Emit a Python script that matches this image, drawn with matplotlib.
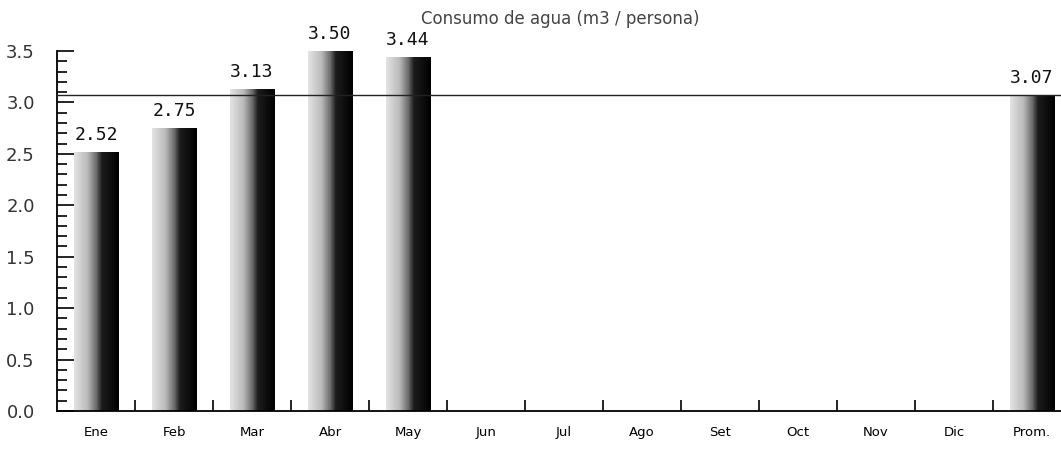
import matplotlib
matplotlib.use("Agg")
import matplotlib.pyplot as plt
import numpy as np
from matplotlib.colors import LinearSegmentedColormap
from matplotlib.ticker import MultipleLocator

months = ['Ene', 'Feb', 'Mar', 'Abr', 'May', 'Jun', 'Jul', 'Ago',
          'Set', 'Oct', 'Nov', 'Dic', 'Prom.']
consumo = [2.52, 2.75, 3.13, 3.50, 3.44, np.nan, np.nan, np.nan,
           np.nan, np.nan, np.nan, np.nan, 3.07]
promedio = 3.07

fig = plt.figure(figsize=(10.61, 4.5), dpi=100)
# the plot area runs past the right edge of the picture, as in the original
ax = fig.add_axes([57 / 1061, 39 / 450, 1004 / 1061, 360 / 450])

x = np.arange(len(months))
bars = ax.bar(x, np.nan_to_num(consumo), width=0.565, color='none',
              edgecolor='none', zorder=2)

# gray-to-black horizontal gradient clipped to each bar
cmap = LinearSegmentedColormap.from_list(
    'grad', [(0.0, '#e4e4e4'), (0.3, '#bababa'), (0.5, '#6a6a6a'),
             (0.62, '#1c1c1c'), (1.0, '#000000')])
grad = np.linspace(0, 1, 256).reshape(1, -1)
for b, v in zip(bars, consumo):
    if np.isnan(v):
        continue
    x0, w, h = b.get_x(), b.get_width(), b.get_height()
    im = ax.imshow(grad, cmap=cmap, aspect='auto', extent=[x0, x0 + w, 0, h],
                   zorder=2, interpolation='bilinear')
    im.set_clip_path(b)
    ax.text(x0 + w / 2, h + 0.08, f'{v:.2f}', ha='center', va='bottom',
            family='DejaVu Sans Mono', fontsize=13, color='#111111', zorder=4)

ax.axhline(promedio, color='#222222', lw=1.0, zorder=3)

ax.set_xlim(-0.5, -0.5 + 1004 / 78)
ax.set_ylim(0, 3.5)
ax.set_xticks(x)
ax.set_xticklabels(months, fontsize=9.5)
ax.set_xticks(x[:-1] + 0.5, minor=True)
ax.tick_params(axis='x', which='major', length=0, pad=11)
ax.tick_params(axis='x', which='minor', direction='in', length=8, width=1.2)
ax.yaxis.set_major_locator(MultipleLocator(0.5))
ax.yaxis.set_minor_locator(MultipleLocator(0.1))
ax.yaxis.set_major_formatter(plt.FuncFormatter(lambda v, p: f'{v:.1f}'))
ax.tick_params(axis='y', which='major', direction='in', length=12, width=1.2,
               labelsize=13, pad=16, labelcolor='#333333')
ax.tick_params(axis='y', which='minor', direction='in', length=7, width=1.2)

for s in ['top', 'right']:
    ax.spines[s].set_visible(False)
for s in ['left', 'bottom']:
    ax.spines[s].set_linewidth(1.3)

fig.text(0.528, 0.958, 'Consumo de agua (m3 / persona)', ha='center',
         va='center', fontsize=12, color='#444444')

fig.savefig('out.png', dpi=100)
